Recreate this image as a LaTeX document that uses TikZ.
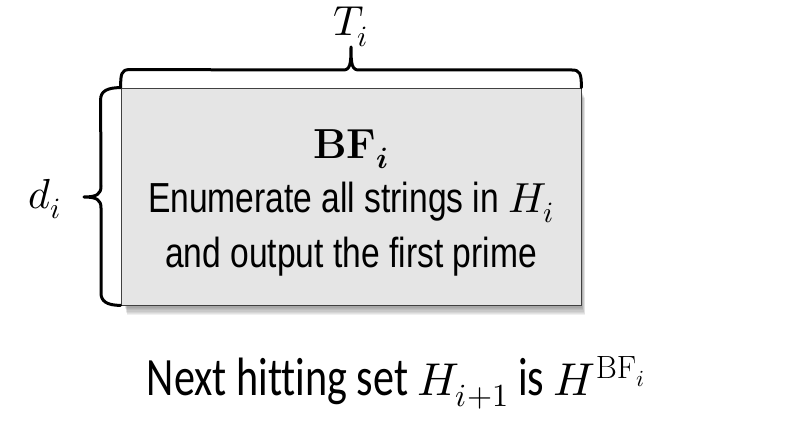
\documentclass[tikz,border=0pt]{standalone}
\usepackage{amsmath,amssymb}
\usepackage{fontspec}
\usepackage{unicode-math}
\setmathfont{Latin Modern Math}
\newfontfamily\boxfont[FakeStretch=0.8, Ligatures=NoCommon]{Liberation Sans}
\newfontfamily\notefont[FakeStretch=0.78, Ligatures=NoCommon]{Carlito}
\newcommand{\notemath}[1]{{\fontsize{46}{60}\selectfont$#1$}}
\usepackage{tikz}
\usetikzlibrary{positioning, calc}

\begin{document}
\begin{tikzpicture}[x=1pt, y=-1pt,
    bracestyle/.style={line width=3pt, line join=round, line cap=round},
    boxstyle/.style={draw=black!75, line width=0.8pt, fill=black!10}]
    \useasboundingbox (0,0) rectangle (790,422);
    % soft shadow under the box
    \foreach \s in {1,...,8}
        \fill[black, opacity=0.06] (124+0.4*\s,90+\s) rectangle (581+0.5*\s,305+1.3*\s);
    \node[boxstyle, minimum width=460pt, minimum height=217pt, inner sep=0pt] (bf) at (351,196.5) {};
    \node[align=center, font=\boxfont\fontsize{42}{54.5}\selectfont] (bftext) at (351,202.5)
        {$\mathbf{BF}_{\symbfit{i}}$\\ Enumerate all strings in $H_i$\\ and output the first prime};
    % braces
    \draw[bracestyle] (bf.north west) .. controls +(0,-14) and +(-8,0) .. ++(9,-18) -- (343,70)
        .. controls (350,70) and (351,65) .. (351,47) .. controls (351,65) and (352,70) .. (359,70)
        -- (572,70) .. controls +(8,0) and +(0,-14) .. (bf.north east);
    \draw[bracestyle] (bf.north west) .. controls +(-14,0) and +(0,-8) .. ++(-20,12) -- (101,186)
        .. controls (101,194) and (97,197) .. (84,197) .. controls (97,197) and (101,200) .. (101,208)
        -- (101,293) .. controls +(0,8) and +(-14,0) .. (bf.south west);
    \node[font=\fontsize{42}{50}\selectfont, inner sep=1pt] (ti) at (351,27) {$T_i$};
    \node[font=\fontsize{42}{50}\selectfont] (di) at (45,199) {$d_i$};
    \node[font=\notefont\fontsize{54}{60}\selectfont] (next) at (396,383)
        {Next hitting set \notemath{H_{i+1}} is \notemath{H^{\mathrm{BF}_i}}};
\end{tikzpicture}
\end{document}
